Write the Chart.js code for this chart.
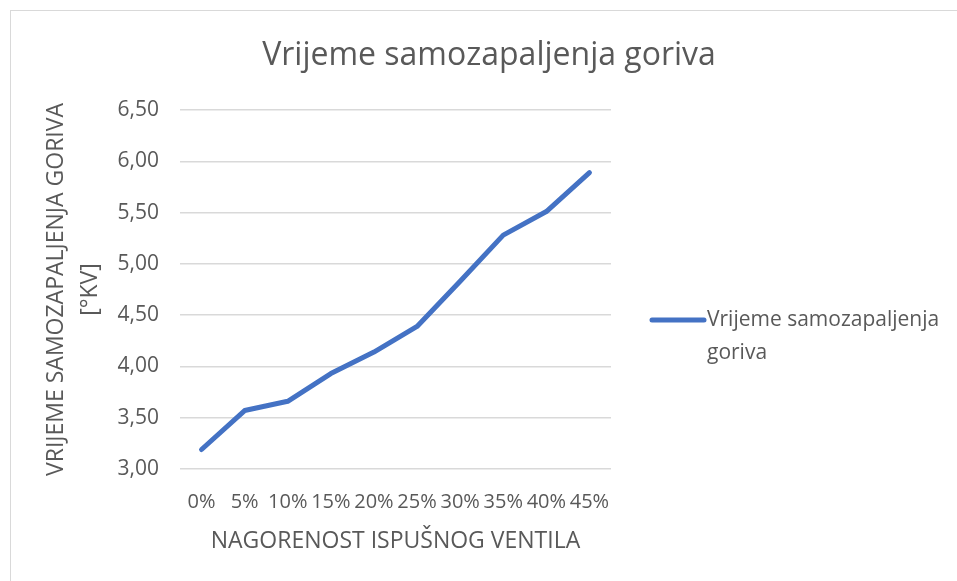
<!DOCTYPE html>
<html>
<head>
<meta charset="utf-8">
<script src="https://cdn.jsdelivr.net/npm/chart.js@4"></script>
<style>
  html, body { margin: 0; padding: 0; background: #fff; }
  #wrap { position: relative; width: 957px; height: 581px; overflow: hidden; }
  #frame { position: absolute; left: 10px; top: 10px; width: 960px; height: 590px;
           border: 1px solid #d9d9d9; pointer-events: none; }
  canvas { position: absolute; left: 0; top: 0; }
</style>
</head>
<body>
<div id="wrap">
  <div id="frame"></div>
  <canvas id="grafikon" width="957" height="581"></canvas>
</div>
<script>
// podaci
var kategorije = ['0%', '5%', '10%', '15%', '20%', '25%', '30%', '35%', '40%', '45%'];
var vrijeme = [3.19, 3.57, 3.66, 3.93, 4.14, 4.39, 4.83, 5.28, 5.51, 5.89];
var nazivSerije = 'Vrijeme samozapaljenja goriva';

var tekst = '#595959';
var font = "'Open Sans', 'Noto Sans', sans-serif";

// naslov centriran na cijeli okvir + legenda desno (dva reda kao u Excelu)
var naslovILegenda = {
  id: 'naslovILegenda',
  afterDraw: function(chart) {
    var ctx = chart.ctx;
    var ds = chart.data.datasets[0];
    ctx.save();
    ctx.fillStyle = tekst;
    ctx.textAlign = 'center';
    ctx.textBaseline = 'middle';
    ctx.font = '32px ' + font;
    ctx.fillText(nazivSerije, 489, 56);

    var x = chart.chartArea.right + 39;
    var y = chart.chartArea.top + 210;
    ctx.strokeStyle = ds.borderColor;
    ctx.lineWidth = 5;
    ctx.lineCap = 'round';
    ctx.beginPath();
    ctx.moveTo(x + 2, y);
    ctx.lineTo(x + 54, y);
    ctx.stroke();
    ctx.textAlign = 'left';
    ctx.font = '21px ' + font;
    ctx.fillText('Vrijeme samozapaljenja', x + 57, y);
    ctx.fillText('goriva', x + 57, y + 33);
    ctx.restore();
  }
};

new Chart(document.getElementById('grafikon'), {
  type: 'line',
  data: {
    labels: kategorije,
    datasets: [{
      label: nazivSerije,
      data: vrijeme,
      borderColor: '#4472C4',
      backgroundColor: '#4472C4',
      borderWidth: 5,
      borderCapStyle: 'round',
      borderJoinStyle: 'round',
      pointRadius: 0,
      tension: 0
    }]
  },
  options: {
    responsive: false,
    animation: false,
    layout: { padding: { left: 0, right: 346, top: 110, bottom: 0 } },
    plugins: {
      legend: { display: false },
      tooltip: { enabled: false },
      title: { display: false }
    },
    scales: {
      x: {
        offset: true,
        grid: { display: false, drawTicks: false },
        border: { display: false },
        ticks: { color: tekst, font: { family: font, size: 20 }, padding: 21, maxRotation: 0, autoSkip: false },
        title: {
          display: true,
          text: 'NAGORENOST ISPUŠNOG VENTILA',
          color: tekst,
          font: { family: font, size: 23, lineHeight: 1.2 },
          padding: { top: 0, bottom: 26 }
        },
        afterFit: function(s) { s.height = 112; }
      },
      y: {
        min: 3,
        max: 6.5,
        ticks: {
          stepSize: 0.5,
          color: tekst,
          font: { family: font, size: 21 },
          padding: 21,
          callback: function(v) { return v.toFixed(2).replace('.', ','); }
        },
        grid: { color: '#d9d9d9', lineWidth: 1.5, drawTicks: false },
        border: { display: false },
        title: {
          display: true,
          text: ['VRIJEME SAMOZAPALJENJA GORIVA', '[°KV]'],
          color: tekst,
          font: { family: font, size: 23, lineHeight: 1.48 },
          padding: { top: 39, bottom: 0 }
        },
        afterFit: function(s) { s.width = 180; }
      }
    }
  },
  plugins: [naslovILegenda]
});
</script>
</body>
</html>
